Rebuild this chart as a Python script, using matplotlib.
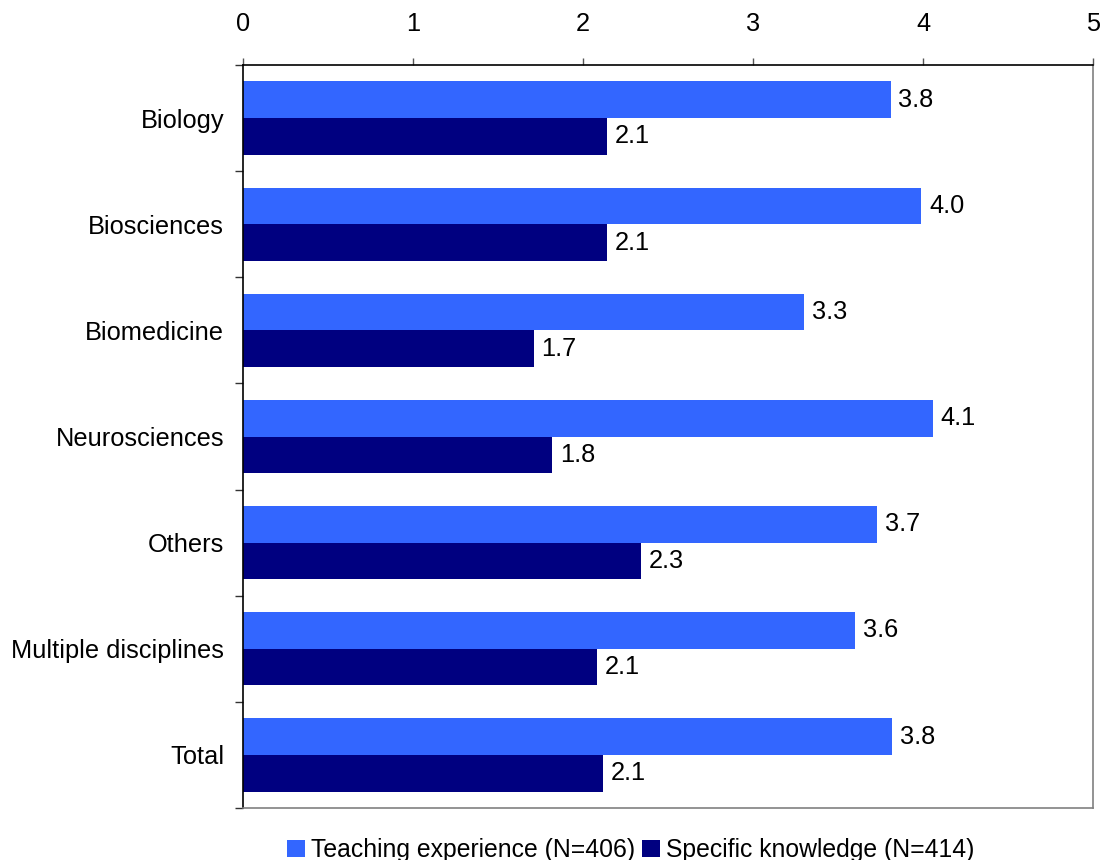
import matplotlib
matplotlib.use("Agg")
import matplotlib.pyplot as plt
import numpy as np
from matplotlib.patches import Patch

categories = ["Biology", "Biosciences", "Biomedicine", "Neurosciences", "Others",
              "Multiple disciplines", "Total"]
teaching = [3.81, 3.99, 3.30, 4.06, 3.73, 3.60, 3.82]
specific = [2.14, 2.14, 1.71, 1.82, 2.34, 2.08, 2.12]
series_names = ["Teaching experience (N=406)", "Specific knowledge (N=414)"]
xticks = [0, 1, 2, 3, 4, 5]

plt.rcParams['font.family'] = ['Liberation Sans', 'DejaVu Sans']
FS = 18.3
c_light = "#3366FF"
c_dark = "#000080"

fig = plt.figure(figsize=(11.01, 8.6), dpi=100)
ax = fig.add_axes([243/1101, 1-808/860, (1093-243)/1101, (808-65)/860])

y = np.arange(len(categories))
h = 0.345
ax.barh(y - h/2, teaching, height=h, color=c_light, linewidth=0)
ax.barh(y + h/2, specific, height=h, color=c_dark, linewidth=0)

for yi, v in zip(y, teaching):
    ax.text(v + 0.045, yi - h/2, f"{v:.1f}", va="center", ha="left", fontsize=FS)
for yi, v in zip(y, specific):
    ax.text(v + 0.045, yi + h/2, f"{v:.1f}", va="center", ha="left", fontsize=FS)

ax.set_xlim(0, 5)
ax.set_ylim(len(categories) - 0.5, -0.5)
ax.xaxis.tick_top()
ax.set_xticks(xticks)
ax.set_xticklabels([str(t) for t in xticks], fontsize=FS)
ax.tick_params(axis="x", direction="out", length=5, width=1, color="#555555", pad=16)

ax.set_yticks(y)
ax.set_yticklabels(categories, fontsize=FS)
ax.set_yticks(np.arange(len(categories) + 1) - 0.5, minor=True)
ax.tick_params(axis="y", which="major", length=0, pad=13.5)
ax.tick_params(axis="y", which="minor", direction="out", length=6, width=1, color="#333333")

ax.spines["top"].set_color("black")
ax.spines["left"].set_color("black")
ax.spines["right"].set_color("#808080")
ax.spines["bottom"].set_color("#808080")
for s in ax.spines.values():
    s.set_linewidth(1.2)

handles = [Patch(facecolor=c_light, edgecolor="none"), Patch(facecolor=c_dark, edgecolor="none")]
fig.legend(handles, series_names, loc="center", bbox_to_anchor=(0.573, 1-850/860),
           ncol=2, frameon=False, fontsize=17.8, handlelength=0.7, handleheight=0.7,
           handletextpad=0.25, columnspacing=0.3, borderaxespad=0)

fig.savefig("out.png", dpi=100)
